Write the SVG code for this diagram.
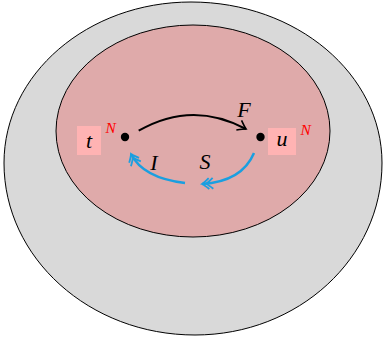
<svg xmlns="http://www.w3.org/2000/svg" width="383" height="337" viewBox="0 0 383 337">
<style>
.region{stroke:#000;stroke-width:1}
.lbl{font-family:"Liberation Serif","Times New Roman",serif;font-style:italic;font-size:22px;fill:#000;text-anchor:middle}
.sup{font-family:"Liberation Serif","Times New Roman",serif;font-style:italic;font-size:15.5px;fill:#ff0000}
.box{fill:#ffb3b3}
.blk{fill:none;stroke:#000;stroke-width:2}
.blu{fill:none;stroke:#1a9fe0;stroke-width:2.5}
</style>
<defs>
<marker id="ah" markerUnits="userSpaceOnUse" markerWidth="16" markerHeight="16" viewBox="-10 -8 16 16" refX="0" refY="0" orient="auto">
<path d="M-8,-5.5 Q-2,-1 0,0 Q-2,1 -8,5.5" fill="none" stroke="#000" stroke-width="1.6"/>
</marker>
<marker id="dah" markerUnits="userSpaceOnUse" markerWidth="20" markerHeight="16" viewBox="-14 -8 20 16" refX="0" refY="0" orient="auto">
<path d="M-7,-5.5 Q-2,-1 0,0 Q-2,1 -7,5.5 M-11,-5.5 Q-6,-1 -4,0 Q-6,1 -11,5.5" fill="none" stroke="#1a9fe0" stroke-width="1.8"/>
</marker>
</defs>
<g id="outer">
<path class="region" fill="#d9d9d9" d="M191,2 C296.5,2 382,74.1 382,163 C382,258 298.3,335 195,335 C89.5,335 4,258 4,163 C4,74.1 87.7,2 191,2 Z"/>
</g>
<g id="inner">
<ellipse class="region" fill="#dfaaaa" cx="193" cy="131" rx="137" ry="106"/>
</g>
<g id="node-t">
<rect class="box" x="77" y="126" width="24" height="29"/>
<text class="lbl" x="89" y="148">t</text>
<text class="sup" x="105.5" y="133">N</text>
<circle cx="125" cy="137" r="4.2" fill="#000"/>
</g>
<g id="node-u">
<rect class="box" x="268" y="128" width="28" height="27"/>
<text class="lbl" x="282" y="146">u</text>
<text class="sup" x="300.5" y="134.5">N</text>
<circle cx="260.5" cy="137" r="4.2" fill="#000"/>
</g>
<g id="connectors">
<path class="blk" d="M138.7,130.7 Q192,100 246,129" marker-end="url(#ah)"/>
<text class="lbl" x="244" y="117">F</text>
<path class="blu" d="M185,183 Q143,178 131,154" marker-end="url(#dah)"/>
<text class="lbl" x="154" y="170">I</text>
<path class="blu" d="M254,153 Q242,181.5 202,184" marker-end="url(#dah)"/>
<text class="lbl" x="205" y="169">S</text>
</g>
</svg>
